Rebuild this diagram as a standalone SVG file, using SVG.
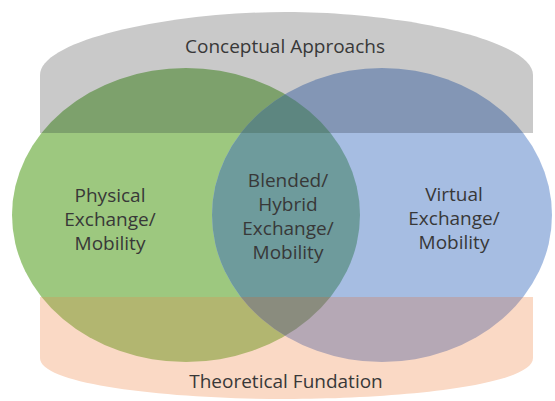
<svg xmlns="http://www.w3.org/2000/svg" width="555" height="401" viewBox="0 0 555 401">
<style>
text{font-family:"Open Sans","Noto Sans","Liberation Sans",sans-serif;font-size:19px;fill:#383838;text-anchor:middle}
</style>
<defs>
<linearGradient id="gGreen" gradientUnits="userSpaceOnUse" x1="0" y1="0" x2="0" y2="401">
<stop offset="0.3317" stop-color="#7da16c"/><stop offset="0.3317" stop-color="#9dc87f"/>
<stop offset="0.7406" stop-color="#9dc87f"/><stop offset="0.7406" stop-color="#b2b670"/>
</linearGradient>
<linearGradient id="gBlue" gradientUnits="userSpaceOnUse" x1="0" y1="0" x2="0" y2="401">
<stop offset="0.3317" stop-color="#8396b5"/><stop offset="0.3317" stop-color="#a6bde2"/>
<stop offset="0.7406" stop-color="#a6bde2"/><stop offset="0.7406" stop-color="#b5a8b5"/>
</linearGradient>
<linearGradient id="gMix" gradientUnits="userSpaceOnUse" x1="0" y1="0" x2="0" y2="401">
<stop offset="0.3317" stop-color="#5d8680"/><stop offset="0.3317" stop-color="#6e9b9c"/>
<stop offset="0.7406" stop-color="#6e9b9c"/><stop offset="0.7406" stop-color="#8a8c7e"/>
</linearGradient>
<clipPath id="clipGreen"><ellipse cx="186" cy="215" rx="174" ry="147"/></clipPath>
</defs>
<g id="conceptual-approachs">
<path d="M40,133 V75 C40,40 170,12 286,12 C402,12 533,40 533,75 V133 Z" fill="#c9c9c9"/>
<text x="285" y="53">Conceptual Approachs</text>
</g>
<g id="theoretical-fundation">
<path d="M40,297 V358 C40,385 170,399 286,399 C402,399 533,385 533,358 V297 Z" fill="#fad9c5"/>
<text x="286" y="388">Theoretical Fundation</text>
</g>
<g id="physical">
<ellipse cx="186" cy="215" rx="174" ry="147" fill="url(#gGreen)"/>
</g>
<g id="virtual">
<ellipse cx="382" cy="215" rx="170" ry="147" fill="url(#gBlue)"/>
</g>
<g id="blended">
<ellipse cx="382" cy="215" rx="170" ry="147" fill="url(#gMix)" clip-path="url(#clipGreen)"/>
</g>
<g id="labels">
<text x="110" y="202">Physical</text>
<text x="110" y="226">Exchange/</text>
<text x="110" y="250">Mobility</text>
<text x="288" y="187">Blended/</text>
<text x="288" y="211">Hybrid</text>
<text x="288" y="235">Exchange/</text>
<text x="288" y="259">Mobility</text>
<text x="454" y="201">Virtual</text>
<text x="454" y="225">Exchange/</text>
<text x="454" y="249">Mobility</text>
</g>
</svg>
